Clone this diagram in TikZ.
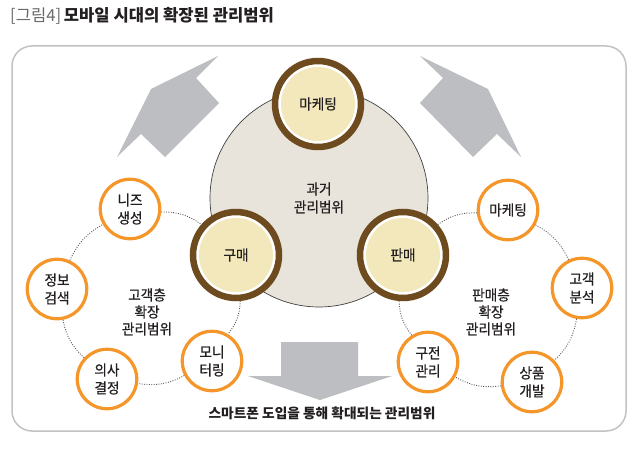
\documentclass[tikz,border=0pt]{standalone}
\usepackage{fontspec}
\newfontfamily\krn[FakeStretch=0.94,FakeBold=0.6]{Noto Sans CJK KR}
\newfontfamily\krt{Noto Sans CJK KR}
\definecolor{orangec}{HTML}{F5962A}
\definecolor{brownc}{HTML}{6E4B1F}
\definecolor{creamc}{HTML}{F2E8BC}
\definecolor{bigc}{HTML}{E9E4DB}
\definecolor{arrowc}{HTML}{BDBEC1}
\definecolor{framec}{HTML}{C2C2C2}
\definecolor{textc}{HTML}{231F20}
\definecolor{dotc}{HTML}{555555}
\definecolor{titlegray}{HTML}{6A6A6A}
\begin{document}
\begin{tikzpicture}[x=1pt,y=-1pt,
  txt/.style={font=\krn\fontsize{14.5}{18}\selectfont, text=textc, align=center, inner sep=0pt},
  brownring/.style={txt, circle, minimum size=86pt, draw=brownc, line width=6.5pt, fill=white,
    path picture={\fill[creamc] (path picture bounding box.center) circle (37pt);}},
  orangering/.style={txt, circle, minimum size=59.5pt, draw=orangec, line width=3.2pt, fill=white},
  bigcircle/.style={txt, circle, minimum size=218pt, fill=bigc, draw=black!75, line width=0.7pt},
  dotline/.style={draw=dotc, line width=0.9pt, dash pattern=on 0.9pt off 1.5pt},
  grayarrow/.style={fill=arrowc}
]
\useasboundingbox (0,0) rectangle (640,452);
% title
\node[anchor=west, inner sep=0pt, font=\krt\fontsize{16.6}{18}\selectfont, text=textc] (title) at (10,16)
  {{\color{titlegray}[그림4]}\,\textbf{모바일 시대의 확장된 관리범위}};
% frame
\draw[framec, line width=1.5pt, rounded corners=20pt] (12,46) rectangle (626,431);
% gray arrows
\fill[grayarrow] (218,56) -- (196,78) -- (219,103) -- (165,157) -- (141,134) -- (117,157) -- (151,89) -- cycle;
\fill[grayarrow] (420,56) -- (443,78) -- (420,103) -- (473,157) -- (497,134) -- (521,157) -- (488,89) -- cycle;
\fill[grayarrow] (281,342) -- (358,342) -- (358,376) -- (392,376) -- (320,400) -- (248,376) -- (281,376) -- cycle;
% big circle
\node[bigcircle] (past) at (319,198) {과거\\관리범위};
% brown circles
\node[brownring] (mk) at (318,104) {마케팅};
\node[brownring] (buy) at (236,255) {구매};
\node[brownring] (sell) at (403,255) {판매};
% left ring
\node[orangering] (needs) at (130,209) {니즈\\생성};
\node[orangering] (info) at (57,289) {정보\\검색};
\node[orangering] (decide) at (107,379) {의사\\결정};
\node[orangering] (monitor) at (212,361) {모니\\터링};
% right ring
\node[orangering] (mk2) at (508,210) {마케팅};
\node[orangering] (cust) at (582,288) {고객\\분석};
\node[orangering] (prod) at (532,382) {상품\\개발};
\node[orangering] (word) at (428,362) {구전\\관리};
% labels
\node[txt, align=center, font=\krn\fontsize{14.5}{17}\selectfont] (leftlab) at (147,312) {고객층\\확장\\관리범위};
\node[txt, align=center, font=\krn\fontsize{14.5}{17}\selectfont] (rightlab) at (491,312) {판매층\\확장\\관리범위};
\node[txt, font=\krt\fontsize{13.7}{18}\selectfont\bfseries] (bottomlab) at (322,413) {스마트폰 도입을 통해 확대되는 관리범위};
% dotted connectors left
\draw[dotline] (needs) to[bend left=18] (buy);
\draw[dotline] (buy) to[bend left=18] (monitor);
\draw[dotline] (monitor) to[bend left=18] (decide);
\draw[dotline] (decide) to[bend left=18] (info);
\draw[dotline] (info) to[bend left=18] (needs);
% dotted connectors right
\draw[dotline] (sell) to[bend left=18] (mk2);
\draw[dotline] (mk2) to[bend left=18] (cust);
\draw[dotline] (cust) to[bend left=18] (prod);
\draw[dotline] (prod) to[bend left=18] (word);
\draw[dotline] (word) to[bend left=18] (sell);
\end{tikzpicture}
\end{document}
